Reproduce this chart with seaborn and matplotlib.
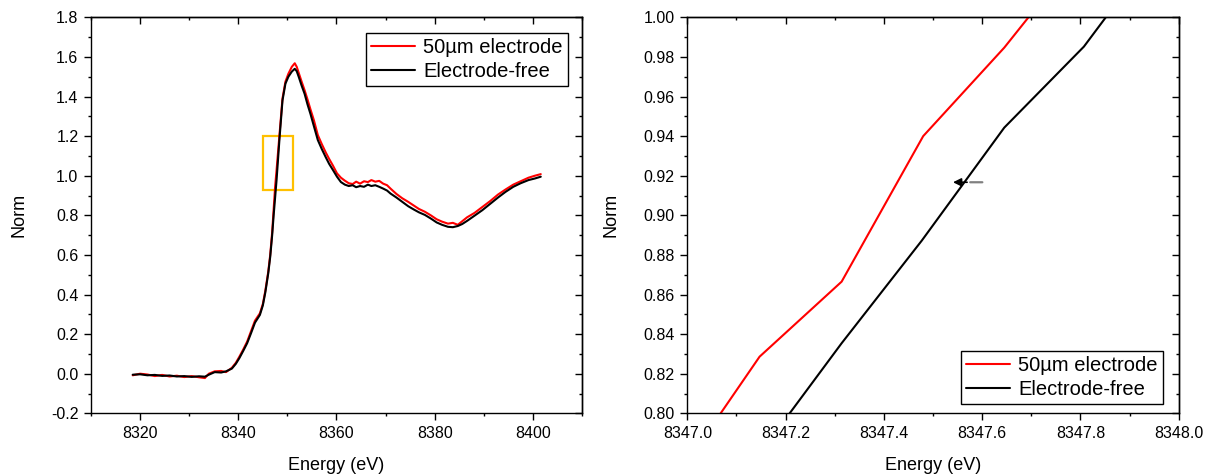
import matplotlib
matplotlib.use('Agg')
import matplotlib.pyplot as plt
from matplotlib.patches import Rectangle
from matplotlib.ticker import MultipleLocator, FormatStrFormatter
import pandas as pd
import seaborn as sns

# full spectrum
energy = [8318.5, 8320.0, 8321.5, 8323.0, 8324.5, 8326.0, 8327.5, 8329.0, 8330.5, 8332.0,
          8333.2, 8334.0, 8335.2, 8336.5, 8337.5, 8338.7, 8339.5, 8340.2, 8341.0, 8341.8,
          8342.6, 8343.4, 8344.4, 8345.0, 8345.5, 8346.1, 8346.5, 8346.9, 8347.2, 8347.5,
          8347.8, 8348.4, 8349.0, 8349.6, 8350.2, 8350.9, 8351.5, 8351.9, 8352.3, 8352.9,
          8353.5, 8354.1, 8354.7, 8355.4, 8356.2, 8357.0, 8357.8, 8358.5, 8359.3, 8360.1,
          8360.9, 8361.7, 8362.5, 8363.3, 8364.0, 8364.8, 8365.6, 8366.4, 8367.1, 8367.9,
          8368.7, 8369.5, 8370.3, 8371.0, 8372.2, 8373.4, 8374.6, 8375.7, 8376.8, 8378.0,
          8379.2, 8380.4, 8381.5, 8382.7, 8383.7, 8384.7, 8385.6, 8386.6, 8388.1, 8389.7,
          8391.3, 8392.9, 8394.4, 8396.0, 8397.5, 8399.1, 8400.4, 8401.6]

norm_free = [-0.005, -0.003, -0.008, -0.006, -0.011, -0.009, -0.014, -0.012, -0.016, -0.013,
             -0.015, -0.005, 0.008, 0.006, 0.012, 0.026, 0.050, 0.078, 0.115, 0.154,
             0.205, 0.258, 0.297, 0.345, 0.410, 0.507, 0.590, 0.700, 0.800, 0.890,
             0.980, 1.190, 1.380, 1.465, 1.500, 1.526, 1.540, 1.528, 1.500, 1.455,
             1.414, 1.360, 1.312, 1.250, 1.180, 1.135, 1.094, 1.060, 1.028, 0.995,
             0.968, 0.955, 0.948, 0.952, 0.942, 0.948, 0.944, 0.955, 0.948, 0.952,
             0.944, 0.935, 0.925, 0.910, 0.890, 0.868, 0.846, 0.830, 0.815, 0.802,
             0.784, 0.764, 0.752, 0.742, 0.740, 0.746, 0.756, 0.772, 0.798, 0.826,
             0.858, 0.890, 0.918, 0.944, 0.962, 0.978, 0.986, 0.995]

norm_50um = [-0.008, 0.000, -0.004, -0.012, -0.006, -0.014, -0.010, -0.017, -0.012, -0.018,
             -0.022, 0.000, 0.012, 0.014, 0.008, 0.030, 0.055, 0.085, 0.122, 0.162,
             0.215, 0.268, 0.305, 0.352, 0.418, 0.515, 0.600, 0.715, 0.830, 0.945,
             1.030, 1.210, 1.390, 1.475, 1.515, 1.550, 1.568, 1.550, 1.520, 1.475,
             1.432, 1.385, 1.335, 1.280, 1.205, 1.160, 1.118, 1.085, 1.050, 1.012,
             0.990, 0.975, 0.962, 0.958, 0.970, 0.960, 0.972, 0.968, 0.978, 0.970,
             0.974, 0.960, 0.952, 0.935, 0.908, 0.886, 0.868, 0.850, 0.832, 0.818,
             0.800, 0.780, 0.768, 0.758, 0.762, 0.752, 0.770, 0.790, 0.812, 0.842,
             0.872, 0.905, 0.930, 0.955, 0.972, 0.990, 1.000, 1.008]

# zoomed window (right panel)
zoom_e_50um = [8346.982, 8347.147, 8347.314, 8347.480, 8347.645, 8347.810]
zoom_n_50um = [0.769, 0.8286, 0.8665, 0.940, 0.9847, 1.036]
zoom_e_free = [8347.147, 8347.314, 8347.477, 8347.645, 8347.807, 8347.975]
zoom_n_free = [0.7795, 0.8354, 0.8872, 0.9443, 0.9852, 1.041]

labels = ['50\u00b5m electrode', 'Electrode-free']

sns.set_theme(style='ticks', rc={'axes.edgecolor': 'black', 'xtick.color': 'black',
                                 'ytick.color': 'black', 'text.color': 'black',
                                 'axes.labelcolor': 'black', 'axes.linewidth': 1.0})
plt.rcParams['font.family'] = ['Liberation Sans', 'DejaVu Sans']
plt.rcParams['axes.unicode_minus'] = False

df_full = pd.DataFrame({'energy': energy, 'free': norm_free, 'e50': norm_50um})

fig = plt.figure(figsize=(12.05, 4.76), dpi=100)
ax1 = fig.add_axes([0.0755, 0.1317, 0.4075, 0.8319])
ax2 = fig.add_axes([0.5704, 0.1317, 0.4078, 0.8319])

sns.lineplot(data=df_full, x='energy', y='e50', color='#ff0000', lw=1.5, label=labels[0], ax=ax1)
sns.lineplot(data=df_full, x='energy', y='free', color='black', lw=1.5, label=labels[1], ax=ax1)
sns.lineplot(x=zoom_e_50um, y=zoom_n_50um, color='#ff0000', lw=1.5, label=labels[0], ax=ax2)
sns.lineplot(x=zoom_e_free, y=zoom_n_free, color='black', lw=1.5, label=labels[1], ax=ax2)

ax1.add_patch(Rectangle((8345.0, 0.93), 6.2, 0.27, fill=False, edgecolor='#ffc000', lw=1.6))

ax2.annotate('', xy=(8347.57, 0.9167), xytext=(8347.606, 0.9167),
             arrowprops=dict(arrowstyle='-', color='#808080', lw=1.6))
ax2.annotate('', xy=(8347.535, 0.9167), xytext=(8347.575, 0.9167),
             arrowprops=dict(arrowstyle='-|>', color='black', lw=1.2, mutation_scale=12))

setup = [
    (ax1, (8310, 8410), (-0.2, 1.8), 20, 10, 0.2, 0.1, '%d', '%.1f', (0.9715, 0.960), 'upper right', -0.130),
    (ax2, (8347.0, 8348.0), (0.80, 1.00), 0.2, 0.1, 0.02, 0.01, '%.1f', '%.2f', (0.968, 0.0235), 'lower right', -0.139),
]
for ax, xl, yl, xmaj, xmin, ymaj, ymin, xfmt, yfmt, anchor, loc, ylab_x in setup:
    ax.set_xlim(*xl)
    ax.set_ylim(*yl)
    ax.xaxis.set_major_locator(MultipleLocator(xmaj))
    ax.xaxis.set_minor_locator(MultipleLocator(xmin))
    ax.yaxis.set_major_locator(MultipleLocator(ymaj))
    ax.yaxis.set_minor_locator(MultipleLocator(ymin))
    ax.xaxis.set_major_formatter(FormatStrFormatter(xfmt))
    ax.yaxis.set_major_formatter(FormatStrFormatter(yfmt))
    ax.tick_params(which='major', direction='out', length=5, width=1.0, labelsize=11.5, pad=4)
    ax.tick_params(which='minor', direction='out', length=2.5, width=1.0)
    for sp in ax.spines.values():
        sp.set_visible(True)
        sp.set_linewidth(1.0)

    top = ax.secondary_xaxis('top')
    top.xaxis.set_major_locator(MultipleLocator(xmaj))
    top.xaxis.set_minor_locator(MultipleLocator(xmin))
    top.tick_params(which='major', direction='in', length=5, width=1.0, labeltop=False)
    top.tick_params(which='minor', direction='in', length=2.5, width=1.0)
    right = ax.secondary_yaxis('right')
    right.yaxis.set_major_locator(MultipleLocator(ymaj))
    right.yaxis.set_minor_locator(MultipleLocator(ymin))
    right.tick_params(which='major', direction='in', length=5, width=1.0, labelright=False)
    right.tick_params(which='minor', direction='in', length=2.5, width=1.0)

    ax.set_xlabel('Energy (eV)', fontsize=13)
    ax.set_ylabel('Norm', fontsize=13)
    ax.xaxis.set_label_coords(0.5, -0.110)
    ax.yaxis.set_label_coords(ylab_x, 0.5)

    leg = ax.legend(loc=loc, bbox_to_anchor=anchor, borderaxespad=0, fontsize=14.5,
                    frameon=True, fancybox=False, edgecolor='black', framealpha=1,
                    handlelength=2.2, handletextpad=0.4, labelspacing=0.25, borderpad=0.25)
    leg.get_frame().set_linewidth(1.0)

fig.savefig('out.png', dpi=100)
